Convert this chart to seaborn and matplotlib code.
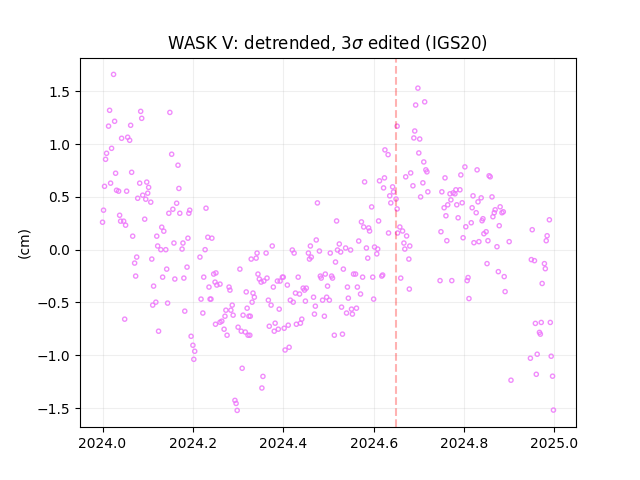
import pandas as pd
import seaborn as sns
import matplotlib
matplotlib.use('Agg')
import matplotlib.pyplot as plt

# Decimal year minus 2024 and detrended residual in cm.
early_year = [.0244, .0156, .0844, .149, .0867, .0267, .0133, .0622, .0422, .0556,
              .06, .02, .0089, .0067, .153, .167, .0289, .0644, .0044, .0178,
              .0822, .0978, .102, .169, .031, .0356, .0533, .10, .0889, .0778,
              .0956, .1067, .164, .0022, .1556, .193, .191, .1467, .171, .229,
              .0378, .04, .0467, .051, 0.0, .0933, .131, .1356, .0667, .12,
              .189, .233, .242]
early_cm = [1.66, 1.32, 1.31, 1.30, 1.244, 1.216, 1.17, 1.178, 1.055, 1.065,
            1.036, .96, .913, .856, .904, .80, .724, .733, .60, .63,
            .63, .64, .59, .58, .563, .554, .554, .535, .516, .487,
            .478, .45, .44, .374, .383, .374, .345, .345, .345, .393,
            .326, .27, .27, .232, .26, .289, .213, .175, .128, .128,
            .109, .118, .109]

low_year = [.122, .158, .178, .129, .14, .176, .227, .2156, .0756, .071,
            .109, .142, .187, .0733, .133, .16, .18, .224, .246, .251,
            .304, .249, .253, .26, .2356, .28, .282, .318, .113, .218,
            .238, .24, .287, .118, .111, .144, .273, .284, .32, .182,
            .222, .271, .289, .311, .324, .264, .26, .25, .30, .269,
            .307, .316, .322, .2756, .049, .124, .196, .2, .204, .202,
            .309, .293, .2956, .298, .3527, .355]
low_cm = [.035, .063, .063, 0.0, 0.0, .006, 0.0, -.07, -.07, -.127,
          -.089, -.184, -.165, -.25, -.26, -.278, -.269, -.26, -.231, -.22,
          -.184, -.307, -.335, -.326, -.354, -.354, -.383, -.40, -.345, -.468,
          -.468, -.468, -.525, -.497, -.525, -.506, -.573, -.573, -.554, -.582,
          -.60, -.63, -.62, -.62, -.63, -.677, -.687, -.706, -.734, -.753,
          -.772, -.78, -.81, -.81, -.658, -.772, -.82, -.905, -.962, -1.038,
          -1.123, -1.427, -1.456, -1.522, -1.31, -1.20]

mid_year = [.58, .613, .624, .671, .622, .642, .644, .6356, .6496, .638,
            .4756, .5956, .652, .518, .573, .611, .578, .589, .591, .658,
            .664, .633, .653, .673, .473, .567, .524, .46, .667, .669,
            .68, .3756, .584, .602, .609, .538, .549, .52, .42, .48,
            .342, .424, .4556, .504, .527, .362, .607, .462, .458, .587,
            .34, .329, .5156, .678, .533, .344, .482, .493, .507, .509,
            .484, .5556, .56, .5756, .598, .618, .62, .66, .347, .364,
            .398, .40, .433, .357, .351, .387, .393, .378, .409, .498,
            .542, .564, .444, .451, .447, .679, .427, .436, .571, .333,
            .336, .467, .496, .544, .6, .367, .331, .4156, .422, .449,
            .487, .502, .373, .471, .529, .562, .391, .551, .54, .553,
            .469, .491, .327, .441, .429, .438, .382, .411, .369, .402,
            .389, .38, .513, .531, .413, .404, .326, .625, .632, .652]
mid_cm = [.642, .652, .68, .69, .585, .595, .547, .51, .48, .443,
          .443, .405, .386, .272, .263, .272, .215, .206, .177, .215,
          .177, .158, .158, .13, .092, .082, .054, .035, .063, .006,
          .035, .035, .016, .025, .006, .016, -.003, -.003, -.003, -.013,
          -.032, -.032, -.032, -.032, -.022, -.032, -.04, -.07, -.089, -.08,
          -.08, -.089, -.117, -.089, -.184, -.231, -.25, -.231, -.25, -.269,
          -.269, -.231, -.231, -.26, -.26, -.25, -.24, -.269, -.278, -.269,
          -.26, -.26, -.26, -.297, -.307, -.297, -.297, -.354, -.335, -.345,
          -.354, -.354, -.364, -.364, -.383, -.373, -.411, -.42, -.42, -.411,
          -.45, -.45, -.45, -.459, -.468, -.478, -.497, -.478, -.497, -.487,
          -.478, -.478, -.525, -.535, -.544, -.554, -.563, -.563, -.60, -.61,
          -.61, -.63, -.63, -.658, -.706, -.696, -.696, -.715, -.725, -.744,
          -.753, -.772, -.81, -.80, -.924, -.95, -.81, .945, .90, 1.17]

late_year = [.698, .693, .713, .691, .689, .702, .70, .711, .7156, .718,
             .682, .687, .709, .72, .704, .758, .793, .802, .829, .8556,
             .858, .751, .769, .776, .782, .791, .78, .82, .838, .862,
             .771, .831, .796, .784, .764, .756, .818, .88, .869, .867,
             .887, .884, .827, .76, .787, .864, .842, .84, .989, .816,
             .878, .804, .951, .749, .849, .844, .984, .762, .798, .853,
             .982, .822, .833, .9, .873, .851, .949, .956, .978, .98,
             .876, .889, .747, .773, .807, .809, .973, .891, .811, .958,
             .971, .991, .967, .969, .962, .947, .993, .96, .996, .904,
             .998]
late_cm = [1.53, 1.37, 1.40, 1.124, 1.058, 1.048, .916, .831, .756, .737,
           .727, .605, .633, .548, .50, .68, .708, .784, .756, .70,
           .69, .548, .529, .538, .567, .567, .529, .51, .491, .50,
           .472, .453, .444, .425, .425, .397, .397, .406, .378, .35,
           .359, .35, .35, .321, .302, .312, .293, .274, .283, .255,
           .227, .217, .189, .17, .17, .151, .132, .085, .113, .085,
           .085, .066, .076, .076, .028, -.132, -.094, -.104, -.132, -.18,
           -.208, -.255, -.293, -.293, -.293, -.264, -.32, -.397, -.463, -.698,
           -.689, -.689, -.783, -.80, -.99, -1.028, -1.009, -1.18, -1.198, -1.236,
           -1.519]

base_year = 2024
event_year = 2024.65

df = pd.DataFrame({
    'year': [base_year + v for v in early_year + low_year + mid_year + late_year],
    'cm': early_cm + low_cm + mid_cm + late_cm,
})

plt.figure(figsize=(6.4, 4.8), dpi=100)
ax = sns.scatterplot(data=df, x='year', y='cm', s=9, marker='o',
                     facecolors='none', edgecolor='#ee77fb', linewidth=1, alpha=0.85)
ax.axvline(event_year, color='red', linestyle='--', alpha=0.3)

plt.title(r'WASK V: detrended, 3$\sigma$ edited (IGS20)')
plt.xlabel('')
plt.ylabel('(cm)')
plt.xticks([2024.0, 2024.2, 2024.4, 2024.6, 2024.8, 2025.0])
plt.grid(alpha=0.2)
ax.set_axisbelow(True)
plt.savefig('out.png')
